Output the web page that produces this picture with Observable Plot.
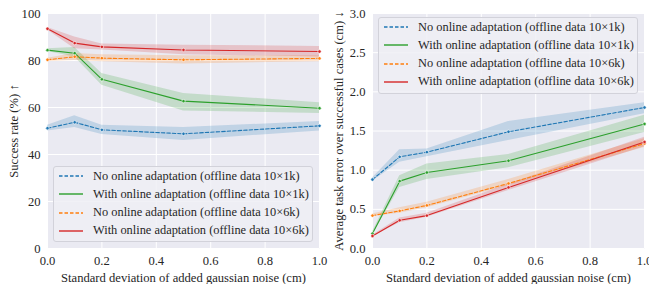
<!DOCTYPE html>
<html>
<head>
<meta charset="utf-8">
<script src="https://cdn.jsdelivr.net/npm/d3@7"></script>
<script src="https://cdn.jsdelivr.net/npm/@observablehq/plot@0.6"></script>
<style>
  body { margin: 0; background: white; font-family: "Liberation Serif", "Times New Roman", Times, "DejaVu Serif", serif; }
  #wrap { position: relative; width: 649px; height: 284px; overflow: hidden; }
  .panel { position: absolute; top: 0; }
  .legend { position: absolute; background: rgba(238,238,245,0.85); border: 1px solid #d2d2da; border-radius: 3px; box-sizing: border-box; }
  .row { position: absolute; height: 18px; display: flex; align-items: center; white-space: nowrap; font-size: 12.4px; color: #262626; }
  .row svg { margin-right: 10px; }
</style>
</head>
<body>
<div id="wrap"></div>
<script>
const noise = [0, 0.1, 0.2, 0.5, 1.0];
const seriesNames = [
  "No online adaptation (offline data 10×1k)",
  "With online adaptation (offline data 10×1k)",
  "No online adaptation (offline data 10×6k)",
  "With online adaptation (offline data 10×6k)"
];
const seriesColors = ["#1f77b4", "#2ca02c", "#ff7f0e", "#d62728"];
const seriesDashed = [true, false, true, false];

// Success rate (%)
const successMean = [
  [51.2, 53.7, 50.5, 48.8, 52.2],
  [84.4, 83.1, 72.0, 62.7, 59.7],
  [80.3, 81.6, 81.0, 80.3, 80.9],
  [93.5, 87.4, 85.8, 84.5, 83.8]
];
const successLow = [
  [50.0, 51.5, 48.5, 46.0, 50.0],
  [83.8, 81.5, 69.5, 58.5, 57.5],
  [79.6, 80.0, 79.5, 78.5, 79.5],
  [93.0, 85.0, 84.5, 82.5, 81.5]
];
const successHigh = [
  [52.5, 56.5, 52.5, 51.5, 54.0],
  [85.0, 85.5, 74.5, 66.0, 62.0],
  [81.0, 83.0, 82.5, 82.0, 82.0],
  [94.0, 90.0, 87.0, 86.5, 86.0]
];

// Average task error (cm)
const errorMean = [
  [0.88, 1.17, 1.23, 1.49, 1.80],
  [0.19, 0.86, 0.97, 1.12, 1.59],
  [0.42, 0.48, 0.55, 0.83, 1.34],
  [0.16, 0.36, 0.42, 0.78, 1.36]
];
const errorLow = [
  [0.86, 1.10, 1.17, 1.38, 1.72],
  [0.17, 0.78, 0.88, 1.03, 1.48],
  [0.41, 0.45, 0.52, 0.80, 1.29],
  [0.15, 0.33, 0.40, 0.74, 1.30]
];
const errorHigh = [
  [0.90, 1.26, 1.27, 1.62, 1.86],
  [0.21, 0.93, 1.08, 1.20, 1.70],
  [0.44, 0.52, 0.59, 0.88, 1.40],
  [0.17, 0.39, 0.45, 0.82, 1.42]
];

const successTicks = [0, 20, 40, 60, 80, 100];
const errorTicks = [0, 0.5, 1.0, 1.5, 2.0, 2.5, 3.0];
const xTicks = [0, 0.2, 0.4, 0.6, 0.8, 1.0];

const FONT = '"Liberation Serif", "Times New Roman", Times, "DejaVu Serif", serif';

function rowsFrom(mean, low, high) {
  const rows = [];
  seriesNames.forEach((s, i) => {
    noise.forEach((x, j) => rows.push({series: s, idx: i, x, y: mean[i][j], lo: low[i][j], hi: high[i][j]}));
  });
  return rows;
}

function panel({mean, low, high, yDomain, yTicks, yFormat, yLabel}) {
  const rows = rowsFrom(mean, low, high);
  const marks = [
    Plot.frame({fill: "#eaeaf2", stroke: null}),
    Plot.gridX(xTicks, {stroke: "white", strokeOpacity: 1, strokeWidth: 1}),
    Plot.gridY(yTicks, {stroke: "white", strokeOpacity: 1, strokeWidth: 1}),
  ];
  seriesNames.forEach((s, i) => {
    const d = rows.filter(r => r.idx === i);
    marks.push(Plot.areaY(d, {x: "x", y1: "lo", y2: "hi", fill: seriesColors[i], fillOpacity: 0.2}));
  });
  seriesNames.forEach((s, i) => {
    const d = rows.filter(r => r.idx === i);
    marks.push(Plot.line(d, {x: "x", y: "y", stroke: seriesColors[i], strokeWidth: 1.1,
      strokeDasharray: seriesDashed[i] ? "3.5,2" : null}));
    marks.push(Plot.dot(d, {x: "x", y: "y", r: 1.7, fill: seriesColors[i], stroke: "white", strokeWidth: 0.6}));
  });
  marks.push(Plot.axisX(xTicks, {tickSize: 0, tickPadding: 8, tickFormat: d3.format(".1f"), fontSize: 12.6,
    label: "Standard deviation of added gaussian noise (cm)", labelAnchor: "center", labelOffset: 33, labelArrow: "none"}));
  marks.push(Plot.axisY(yTicks, {tickSize: 0, tickPadding: 7, tickFormat: yFormat, fontSize: 12.6,
    label: yLabel, labelAnchor: "center", labelOffset: 38, labelArrow: "none"}));
  return Plot.plot({
    width: 325, height: 284,
    marginLeft: 47, marginRight: 6, marginTop: 13, marginBottom: 36,
    x: {domain: [0, 1]},
    y: {domain: yDomain},
    style: {fontFamily: FONT, fontSize: "13px", color: "#262626", overflow: "visible"},
    marks
  });
}

function legend(left, top, width, height) {
  const box = document.createElement("div");
  box.className = "legend";
  Object.assign(box.style, {left: left + "px", top: top + "px", width: width + "px", height: height + "px"});
  seriesNames.forEach((s, i) => {
    const row = document.createElement("div");
    row.className = "row";
    row.style.left = "5px";
    row.style.top = (0 + i * 18.3) + "px";
    const ns = "http://www.w3.org/2000/svg";
    const svg = document.createElementNS(ns, "svg");
    svg.setAttribute("width", 24); svg.setAttribute("height", 10);
    const ln = document.createElementNS(ns, "line");
    ln.setAttribute("x1", 0); ln.setAttribute("x2", 24); ln.setAttribute("y1", 5); ln.setAttribute("y2", 5);
    ln.setAttribute("stroke", seriesColors[i]); ln.setAttribute("stroke-width", 1.4);
    if (seriesDashed[i]) ln.setAttribute("stroke-dasharray", "3.5,2");
    svg.appendChild(ln);
    row.appendChild(svg);
    const t = document.createElement("span");
    t.textContent = s;
    row.appendChild(t);
    box.appendChild(row);
  });
  return box;
}

const wrap = document.getElementById("wrap");
const left = panel({mean: successMean, low: successLow, high: successHigh, yDomain: [0, 100],
  yTicks: successTicks, yFormat: d3.format("d"), yLabel: "Success rate (%) ↑"});
left.classList.add("panel"); left.style.left = "0px";
const right = panel({mean: errorMean, low: errorLow, high: errorHigh, yDomain: [0, 3],
  yTicks: errorTicks, yFormat: d3.format(".1f"), yLabel: "Average task error over successful cases (cm) ↓"});
right.classList.add("panel"); right.style.left = "325px";
wrap.appendChild(left);
wrap.appendChild(right);
wrap.appendChild(legend(53, 166, 260, 76));
wrap.appendChild(legend(378, 17, 260, 77));
</script>
</body>
</html>
